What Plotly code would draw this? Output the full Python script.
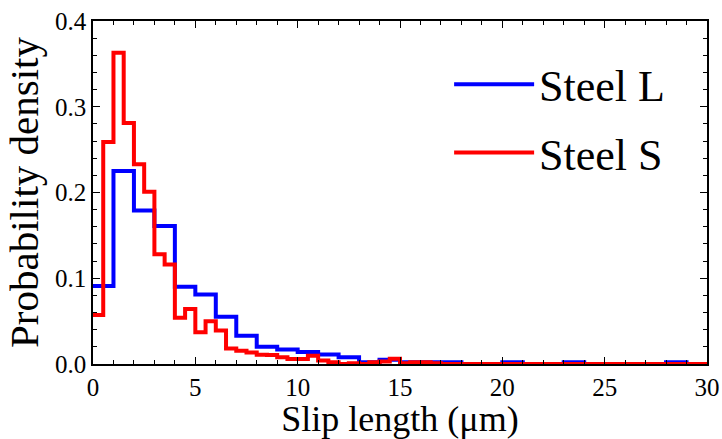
import plotly.graph_objects as go

# Steel L: bins of width 1 um, 0..30
steel_l_edges = list(range(0, 31))
steel_l_density = [0.091, 0.225, 0.179, 0.161, 0.090, 0.081, 0.055, 0.033, 0.020, 0.017,
                   0.014, 0.011, 0.008, 0.002, 0.005, 0.002, 0.002, 0.002, 0.0, 0.0,
                   0.002, 0.0, 0.0, 0.002, 0.0, 0.0, 0.0, 0.0, 0.002, 0.0]

# Steel S: bins of width 0.5 um, 0..30
steel_s_edges = [i * 0.5 for i in range(61)]
steel_s_density = [0.057, 0.259, 0.363, 0.281, 0.233, 0.201, 0.128, 0.116, 0.054, 0.064,
                   0.037, 0.050, 0.039, 0.018, 0.0155, 0.0135, 0.0108, 0.0105, 0.0078, 0.0057,
                   0.0057, 0.0095, 0.004, 0.002, 0.0, 0.001, 0.0, 0.002, 0.003, 0.006,
                   0.001, 0.002, 0.002, 0.001] + [0.0] * 26

x_ticks = [0, 5, 10, 15, 20, 25, 30]
y_ticks = [0.0, 0.1, 0.2, 0.3, 0.4]

FONT = "Liberation Serif"

fig = go.Figure()
fig.add_trace(go.Scatter(
    x=steel_l_edges, y=steel_l_density + [steel_l_density[-1]],
    mode="lines", line=dict(shape="hv", color="#0000ff", width=4),
    name="Steel L", legendgroup="L"))
fig.add_trace(go.Scatter(
    x=steel_s_edges, y=steel_s_density + [steel_s_density[-1]],
    mode="lines", line=dict(shape="hv", color="#ff0000", width=4),
    name="Steel S", legendgroup="S"))

axis_common = dict(
    showline=True, linecolor="black", linewidth=1.5, mirror="ticks",
    ticks="inside", ticklen=7, tickwidth=1.2, tickcolor="black",
    showgrid=False, zeroline=False,
    tickfont=dict(family=FONT, size=25, color="black"),
)

fig.update_xaxes(
    range=[0, 30], tickvals=x_ticks, ticktext=[str(v) for v in x_ticks],
    minor=dict(dtick=1, ticks="inside", ticklen=4, tickcolor="black", tickwidth=1),
    title=dict(text="Slip length (μm)", font=dict(family=FONT, size=36, color="black"), standoff=4),
    **axis_common)
fig.update_yaxes(
    range=[0, 0.4], tickvals=y_ticks, ticktext=[f"{v:.1f}" for v in y_ticks],
    minor=dict(dtick=0.02, ticks="inside", ticklen=4, tickcolor="black", tickwidth=1),
    title=dict(text="Probability density", font=dict(family=FONT, size=41, color="black"), standoff=4),
    **axis_common)

fig.update_layout(
    width=722, height=439,
    font=dict(family=FONT),
    margin=dict(l=93, r=15, t=21, b=75, autoexpand=False),
    paper_bgcolor="white", plot_bgcolor="white",
    legend=dict(x=0.58, y=0.918, xanchor="left", yanchor="top",
                font=dict(family=FONT, size=44, color="black"),
                bgcolor="rgba(0,0,0,0)", itemwidth=80, tracegroupgap=8),
    showlegend=True,
)

fig.write_html("out.html", config={"displayModeBar": False},
               post_script="document.body.style.margin='0px';")
